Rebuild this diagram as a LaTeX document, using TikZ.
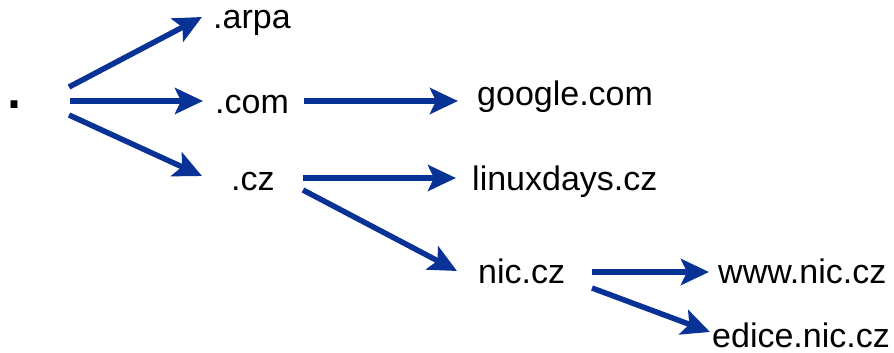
\documentclass[tikz,border=0pt]{standalone}
\usepackage{fontspec}
\setmainfont{Liberation Sans}
\usetikzlibrary{arrows.meta}
\definecolor{dnsblue}{RGB}{8,50,150}
\tikzset{
  x=1pt, y=-1pt,
  dname/.style={anchor=base west, inner sep=0pt, font=\fontsize{34}{40}\selectfont},
  rootdot/.style={anchor=base west, inner sep=0pt, font=\fontsize{72}{80}\selectfont},
  link/.style={draw=dnsblue, line width=5.5pt,
    -{Stealth[length=28pt, width=26pt, inset=6pt]}},
}
\begin{document}
\begin{tikzpicture}
\useasboundingbox (0,0) rectangle (894,353);

% domain names
\node[rootdot] (root) at (4,108) {.};
\node[dname] (arpa) at (213,29) {.arpa};
\node[dname] (com) at (215,113) {.com};
\node[dname] (cz) at (231,190) {.cz};
\node[dname] (google) at (477,105) {google.com};
\node[dname] (linuxdays) at (472,190) {linuxdays.cz};
\node[dname] (nic) at (478,283) {nic.cz};
\node[dname] (www) at (718,283) {www.nic.cz};
\node[dname] (edice) at (712,347) {edice.nic.cz};

% arrow end points
\coordinate (r1) at (69,87);   \coordinate (a1) at (202,17);
\coordinate (r2) at (70,101);  \coordinate (c1) at (203,101);
\coordinate (r3) at (69,115);  \coordinate (z1) at (202,176);
\coordinate (c2) at (304,101); \coordinate (g1) at (458,101);
\coordinate (z2) at (303,178); \coordinate (l1) at (456,178);
\coordinate (z3) at (303,190); \coordinate (n1) at (457,271);
\coordinate (n2) at (592,272); \coordinate (w1) at (709,272);
\coordinate (n3) at (592,288); \coordinate (e1) at (710,332);

% delegation arrows
\draw[link] (r1) -- (a1);
\draw[link] (r2) -- (c1);
\draw[link] (r3) -- (z1);
\draw[link] (c2) -- (g1);
\draw[link] (z2) -- (l1);
\draw[link] (z3) -- (n1);
\draw[link] (n2) -- (w1);
\draw[link] (n3) -- (e1);
\end{tikzpicture}
\end{document}
